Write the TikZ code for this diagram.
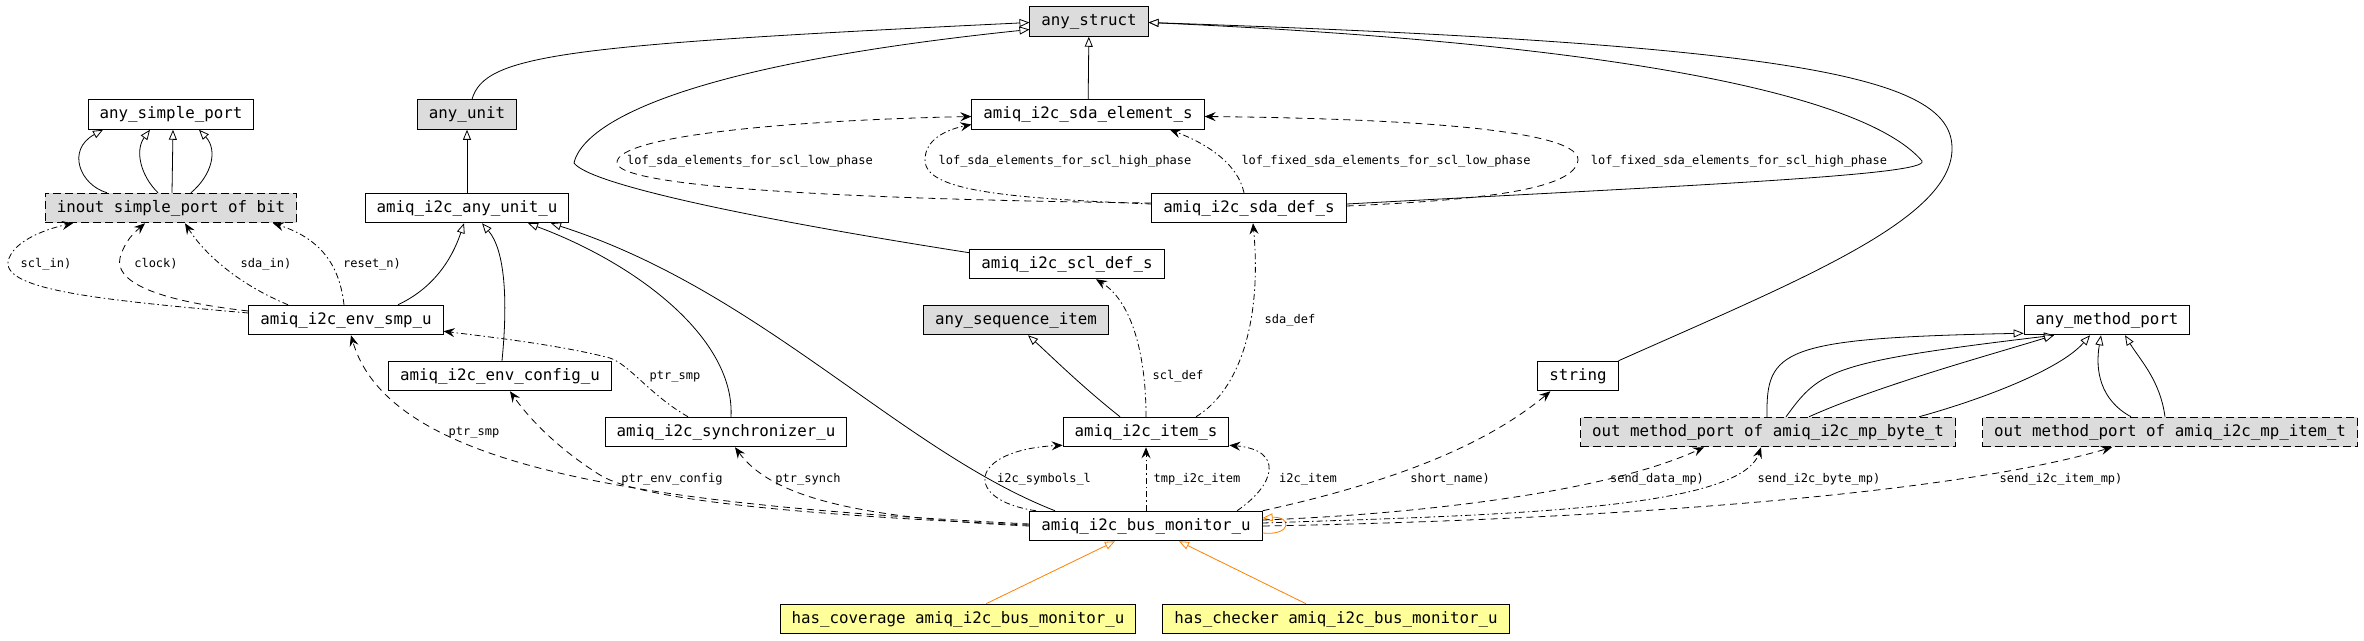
\documentclass[tikz,border=0pt]{standalone}
\usepackage{fontspec}
\setmonofont{DejaVu Sans Mono}
\usetikzlibrary{arrows.meta}
\definecolor{TplGrey}{HTML}{DCDCDC}
\definecolor{AspectYellow}{HTML}{FFFF99}
\definecolor{LikeOrange}{HTML}{FF8000}
\begin{document}
\begin{tikzpicture}[x=1pt,y=-1pt,
    cls/.style={draw,line width=1pt,fill=white,minimum height=29.5pt,inner xsep=11.5pt,
                inner ysep=0pt,font=\ttfamily\fontsize{15.8}{18}\selectfont},
    ext/.style={cls,fill=TplGrey},
    tmpl/.style={cls,fill=TplGrey,dash pattern=on 8pt off 4pt},
    aspect/.style={cls,fill=AspectYellow},
    lbl/.style={font=\ttfamily\fontsize{12}{14}\selectfont,inner sep=0pt},
    inh/.style={line width=0.8pt,-{Triangle[length=10pt,width=8pt,fill=white]}},
    like/.style={inh,LikeOrange},
    use/.style={line width=0.8pt,dash pattern=on 7pt off 5pt,-{Stealth[length=11pt,width=9pt,inset=4pt]}},
    usedot/.style={use,dash pattern=on 6pt off 3pt on 1.5pt off 3pt}]
    \useasboundingbox (0,0) rectangle (2364,640);
    \node[cls]    (anysp)    at (171,114.5) {any\_simple\_port};
    \node[ext]    (anyunit)  at (467,114.5) {any\_unit};
    \node[tmpl]   (inoutsp)  at (171,208)   {inout simple\_port of bit};
    \node[cls]    (anyunitu) at (467,208)   {amiq\_i2c\_any\_unit\_u};
    \node[cls]    (envsmp)   at (346,320)   {amiq\_i2c\_env\_smp\_u};
    \node[cls]    (envcfg)   at (500,376)   {amiq\_i2c\_env\_config\_u};
    \node[cls]    (sync)     at (726,432)   {amiq\_i2c\_synchronizer\_u};
    \node[ext]    (anystruct) at (1089,21.5) {any\_struct};
    \node[cls]    (sdaelem)  at (1088,114.5) {amiq\_i2c\_sda\_element\_s};
    \node[cls]    (sdadef)   at (1249,208)  {amiq\_i2c\_sda\_def\_s};
    \node[cls]    (scldef)   at (1067,264)  {amiq\_i2c\_scl\_def\_s};
    \node[ext]    (seqitem)  at (1016,320)  {any\_sequence\_item};
    \node[cls]    (item)     at (1146,432)  {amiq\_i2c\_item\_s};
    \node[cls]    (busmon)   at (1146,526)  {amiq\_i2c\_bus\_monitor\_u};
    \node[aspect] (cov)      at (958,619)   {has\_coverage amiq\_i2c\_bus\_monitor\_u};
    \node[aspect] (chk)      at (1336,619)  {has\_checker amiq\_i2c\_bus\_monitor\_u};
    \node[cls]    (str)      at (1578,376)  {string};
    \node[cls]    (anymp)    at (2107,320)  {any\_method\_port};
    \node[tmpl]   (mpbyte)   at (1768,432)  {out method\_port of amiq\_i2c\_mp\_byte\_t};
    \node[tmpl]   (mpitem)   at (2170,432)  {out method\_port of amiq\_i2c\_mp\_item\_t};

    \draw[inh] ([xshift=-64]inoutsp.north) .. controls (80,185) and (66,150) .. ([xshift=-68]anysp.south);
    \draw[inh] ([xshift=-13]inoutsp.north) .. controls (140,175) and (135,150) .. ([xshift=-21]anysp.south);
    \draw[inh] ([xshift=1]inoutsp.north) -- ([xshift=2]anysp.south);
    \draw[inh] ([xshift=20]inoutsp.north) .. controls (212,175) and (218,150) .. ([xshift=28]anysp.south);
    \draw[inh] ([xshift=5]anyunit.north) .. controls (485,55) and (560,45) .. ([yshift=-1]anystruct.west);
    \draw[inh] (anyunitu) -- (anyunit);
    \draw[inh] ([xshift=52]envsmp.north) .. controls (440,285) and (455,250) .. ([xshift=-3]anyunitu.south);
    \draw[inh] ([xshift=2]envcfg.north) .. controls (508,300) and (505,250) .. ([xshift=15]anyunitu.south);
    \draw[inh] ([xshift=5]sync.north) .. controls (735,340) and (640,265) .. ([xshift=61]anyunitu.south);
    \draw[inh] ([xshift=-91]busmon.north) .. controls (900,450) and (760,290) .. ([xshift=84]anyunitu.south);
    \draw[inh] (sdaelem) -- (anystruct);
    \draw[inh] ([yshift=-4]scldef.north west) .. controls (760,220) and (590,185) .. (574,163)
               .. controls (580,135) and (640,70) .. ([yshift=-8]anystruct.west);
    \draw[inh] ([yshift=4]sdadef.east) .. controls (1700,185) and (1930,175) .. (1922,161)
               .. controls (1870,100) and (1650,45) .. ([yshift=-1]anystruct.east);
    \draw[inh] (str.north east) .. controls (1800,280) and (1950,220) .. (1952,150)
               .. controls (1954,80) and (1820,45) .. ([yshift=-1]anystruct.east);
    \draw[inh] ([xshift=-26]item.north) .. controls (1080,385) and (1050,355) .. ([xshift=12]seqitem.south);
    \draw[inh] ([xshift=-1]mpbyte.north) .. controls (1766,350) and (1780,338) .. ([yshift=2]anymp.south west);
    \draw[inh] ([xshift=18]mpbyte.north) .. controls (1820,370) and (1830,362) .. ([xshift=-53]anymp.south);
    \draw[inh] ([xshift=41]mpbyte.north) .. controls (1880,385) and (1990,355) .. ([xshift=-53]anymp.south);
    \draw[inh] ([xshift=151]mpbyte.north) .. controls (1980,400) and (2060,370) .. ([xshift=-17]anymp.south);
    \draw[inh] ([xshift=-39]mpitem.north) .. controls (2100,400) and (2095,370) .. ([xshift=-6]anymp.south);
    \draw[inh] ([xshift=-5]mpitem.north) .. controls (2160,380) and (2140,360) .. ([xshift=18]anymp.south);
    \draw[like] ([xshift=28]cov.north) -- ([xshift=-31]busmon.south);
    \draw[like] ([xshift=-30]chk.north) -- ([xshift=33]busmon.south);
    \draw[like] ([yshift=-7]busmon.east) .. controls (1292,536) and (1292,516) .. ([yshift=8]busmon.east);

    \draw[usedot] ([yshift=7]envsmp.west) .. controls (100,300) and (5,290) .. (8,262)
                  .. controls (12,240) and (50,228) .. ([xshift=-98]inoutsp.south);
    \draw[use] ([yshift=9]envsmp.west) .. controls (150,300) and (115,280) .. (120,258)
               .. controls (125,240) and (135,232) .. ([xshift=-26]inoutsp.south);
    \draw[usedot] ([xshift=-58]envsmp.north) .. controls (240,285) and (205,255) .. ([xshift=14]inoutsp.south);
    \draw[usedot] ([xshift=-2]envsmp.north) .. controls (340,270) and (325,240) .. ([xshift=102]inoutsp.south);
    \draw[use] ([yshift=5]sdadef.west) .. controls (900,200) and (620,190) .. (617,163)
               .. controls (615,135) and (800,120) .. ([yshift=-2]sdaelem.west);
    \draw[usedot] ([yshift=4]sdadef.west) .. controls (1000,198) and (925,190) .. (925,160)
                  .. controls (925,140) and (945,130) .. ([yshift=-10]sdaelem.west);
    \draw[usedot] ([xshift=-5]sdadef.north) .. controls (1238,165) and (1210,145) .. ([xshift=82]sdaelem.south);
    \draw[use] ([yshift=2]sdadef.east) .. controls (1480,200) and (1575,190) .. (1578,160)
               .. controls (1580,125) and (1350,118) .. ([yshift=-2]sdaelem.east);
    \draw[usedot] ([xshift=50]item.north) .. controls (1240,390) and (1262,320) .. ([xshift=4]sdadef.south);
    \draw[usedot] (item.north) .. controls (1146,350) and (1130,300) .. ([xshift=29]scldef.south);
    \draw[usedot] ([xshift=-110]busmon.north) .. controls (962,500) and (968,450) .. ([yshift=2]item.south west);
    \draw[usedot] (busmon) -- (item);
    \draw[usedot] ([xshift=91]busmon.north) .. controls (1275,485) and (1285,450) .. ([yshift=2]item.south east);
    \draw[use] (busmon.north east) .. controls (1380,485) and (1480,450) .. ([xshift=13]str.south west);
    \draw[use] ([yshift=6]busmon.east) .. controls (1400,515) and (1600,495) .. ([xshift=-64]mpbyte.south);
    \draw[usedot] ([yshift=3]busmon.east) .. controls (1500,515) and (1740,510) .. ([xshift=-7]mpbyte.south);
    \draw[use] (busmon.east) .. controls (1600,520) and (1950,495) .. ([xshift=-58]mpitem.south);
    \draw[use] ([yshift=2]busmon.west) .. controls (650,505) and (390,470) .. ([xshift=5]envsmp.south);
    \draw[usedot] ([xshift=-38]sync.north) .. controls (650,395) and (630,365) .. (610,358)
                  .. controls (560,345) and (490,337) .. ([yshift=4]envsmp.south east);
    \draw[use] ([yshift=1]busmon.west) .. controls (800,515) and (640,500) .. (600,475)
               .. controls (560,450) and (530,420) .. ([xshift=10]envcfg.south);
    \draw[use] (busmon.west) .. controls (850,518) and (770,495) .. ([xshift=9]sync.south);

    \node[lbl] (lsclin)   at (46,264)   {scl\_in)};
    \node[lbl] (lclock)   at (156,264)  {clock)};
    \node[lbl] (lsdain)   at (266,264)  {sda\_in)};
    \node[lbl] (lresetn)  at (372,264)  {reset\_n)};
    \node[lbl] (llow)     at (750,161)  {lof\_sda\_elements\_for\_scl\_low\_phase};
    \node[lbl] (lhigh)    at (1065,161) {lof\_sda\_elements\_for\_scl\_high\_phase};
    \node[lbl] (lfixlow)  at (1386,161) {lof\_fixed\_sda\_elements\_for\_scl\_low\_phase};
    \node[lbl] (lfixhigh) at (1739,161) {lof\_fixed\_sda\_elements\_for\_scl\_high\_phase};
    \node[lbl] (lsdadef)  at (1290,320) {sda\_def};
    \node[lbl] (lscldef)  at (1178,376) {scl\_def};
    \node[lbl] (lsmpa)    at (474,433)  {ptr\_smp};
    \node[lbl] (lsmpb)    at (675,377)  {ptr\_smp};
    \node[lbl] (lenvcfg)  at (672,479)  {ptr\_env\_config};
    \node[lbl] (lsynch)   at (808,479)  {ptr\_synch};
    \node[lbl] (lsymb)    at (1044,479) {i2c\_symbols\_l};
    \node[lbl] (ltmp)     at (1197,479) {tmp\_i2c\_item};
    \node[lbl] (litem)    at (1308,479) {i2c\_item};
    \node[lbl] (lshort)   at (1450,479) {short\_name)};
    \node[lbl] (ldata)    at (1657,479) {send\_data\_mp)};
    \node[lbl] (lbyte)    at (1819,479) {send\_i2c\_byte\_mp)};
    \node[lbl] (litemmp)  at (2061,479) {send\_i2c\_item\_mp)};
\end{tikzpicture}
\end{document}
